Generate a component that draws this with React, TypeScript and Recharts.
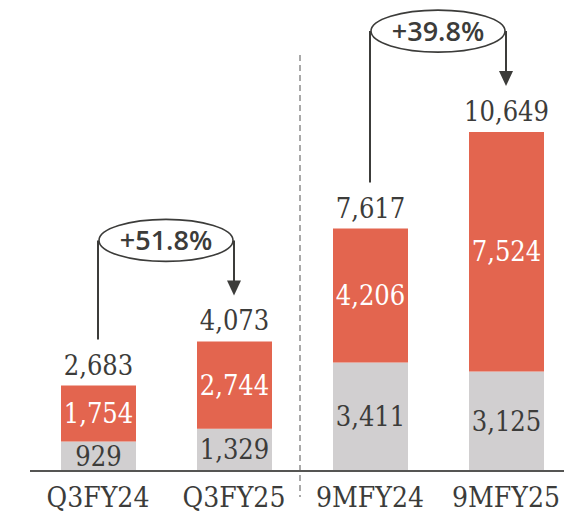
import { Bar, BarChart, LabelList, ReferenceLine, XAxis, YAxis } from "recharts";

const categories = ["Q3FY24", "Q3FY25", "9MFY24", "9MFY25"];
const baseValues = [929, 1329, 3411, 3125];
const growthValues = [1754, 2744, 4206, 7524];
const totals = [2683, 4073, 7617, 10649];
const growthLabels = ["+51.8%", "+39.8%"];
const comparePairs = [
  [0, 1],
  [2, 3],
];

const data = categories.map((name, i) => ({
  name,
  base: baseValues[i],
  growth: growthValues[i],
  total: totals[i],
}));

const numFont = "'DejaVu Serif Condensed', 'DejaVu Serif', serif";
const dark = "#3c3c3a";
const fmt = (v: any) => Number(v).toLocaleString("en-US");

function Bracket(props: any) {
  const { x1, y1, x2, y2, text } = props;
  const cx = (x1 + x2) / 2;
  const ey = y2 - 101;
  const tip = y2 - 46;
  return (
    <g>
      <path d={`M${x1},${y1 - 46}V${ey}`} stroke={dark} strokeWidth={2} fill="none" />
      <path d={`M${x2},${ey}V${tip - 14}`} stroke={dark} strokeWidth={2} fill="none" />
      <polygon points={`${x2 - 7},${tip - 15} ${x2 + 7},${tip - 15} ${x2},${tip}`} fill={dark} />
      <ellipse cx={cx} cy={ey} rx={(x2 - x1) / 2 - 1} ry={21} fill="#fff" stroke={dark} strokeWidth={1.6} />
      <text
        x={cx}
        y={ey}
        dy="0.36em"
        textAnchor="middle"
        fontFamily="'Open Sans', sans-serif"
        fontWeight={600}
        fontSize={27}
        fill={dark}
      >
        {text}
      </text>
    </g>
  );
}

function Separator(props: any) {
  const { x1, y1, y2 } = props;
  return <line x1={x1 - 2} x2={x1 - 2} y1={y1} y2={y2} stroke="#a9a9a9" strokeWidth={2} strokeDasharray="6 4" />;
}

export default function App() {
  return (
    <div style={{ margin: "-8px 0 0 -8px", width: 572, height: 515, overflow: "hidden" }}>
      <BarChart width={578} height={515} data={data} margin={{ top: 0, right: 4, bottom: 0, left: 30 }}>
        <XAxis
          dataKey="name"
          height={44}
          tickLine={false}
          axisLine={{ stroke: "#555553", strokeWidth: 2 }}
          tickMargin={10}
          tick={{ fill: dark, fontSize: 28, fontFamily: numFont }}
          interval={0}
        />
        <YAxis hide domain={[0, 14800]} />
        <Bar dataKey="base" stackId="a" fill="#d1cfd0" barSize={75} isAnimationActive={false}>
          <LabelList dataKey="base" position="center" formatter={fmt} fill={dark} fontSize={27} fontFamily={numFont} />
        </Bar>
        <Bar dataKey="growth" stackId="a" fill="#e3654f" barSize={75} isAnimationActive={false}>
          <LabelList dataKey="growth" position="center" formatter={fmt} fill="#ffffff" fontSize={27} fontFamily={numFont} />
          <LabelList dataKey="total" position="top" offset={11} formatter={fmt} fill={dark} fontSize={27} fontFamily={numFont} />
        </Bar>
        <ReferenceLine
          segment={[
            { x: categories[1], y: 13070 },
            { x: categories[1], y: -820 },
          ]}
          position="end"
          ifOverflow="visible"
          shape={(p: any) => <Separator {...p} />}
        />
        {comparePairs.map(([a, b], i) => (
          <ReferenceLine
            key={i}
            segment={[
              { x: categories[a], y: totals[a] },
              { x: categories[b], y: totals[b] },
            ]}
            ifOverflow="visible"
            shape={(p: any) => <Bracket {...p} text={growthLabels[i]} />}
          />
        ))}
      </BarChart>
    </div>
  );
}
